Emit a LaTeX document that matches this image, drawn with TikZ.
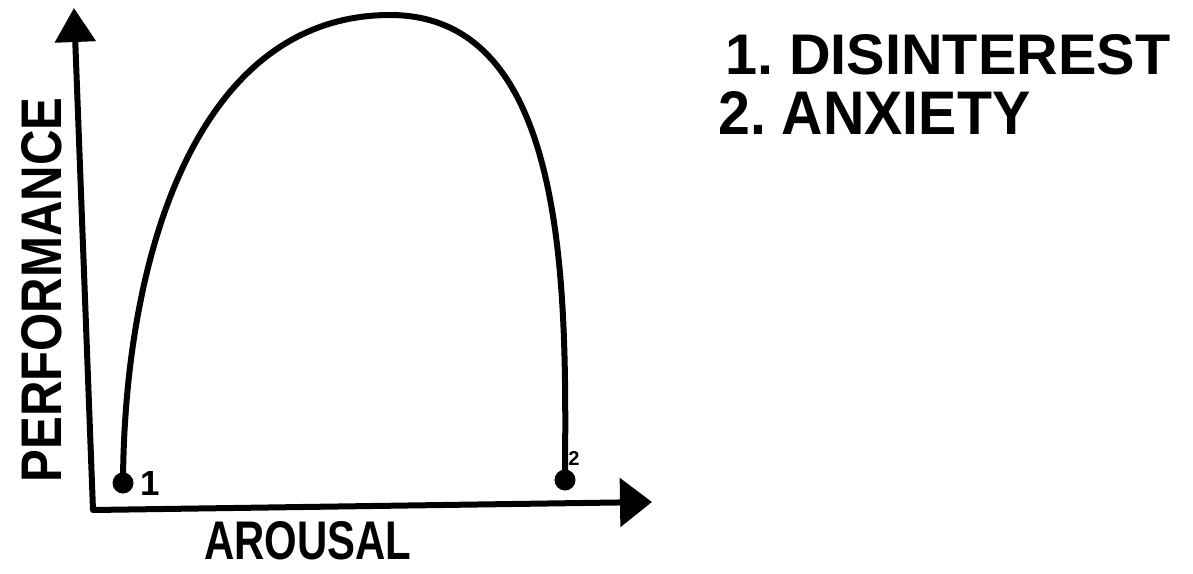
\documentclass[tikz,border=0pt]{standalone}
\usepackage{fontspec}
\setmainfont{Liberation Sans}
\usetikzlibrary{arrows.meta}
\tikzset{
  ink/.style={line width=6pt, line cap=round, line join=round, draw=black},
  dotmark/.style={circle, fill=black, inner sep=0pt, minimum size=21pt},
  hand/.style={inner sep=0pt, font=\bfseries},
}
\begin{document}
\begin{tikzpicture}[x=1pt,y=-1pt]
\useasboundingbox (0,0) rectangle (1193,573);
% axes
\coordinate (O) at (93,510);
\coordinate (ytop) at (74,8);
\coordinate (xend) at (652,502);
\draw[ink, {Triangle[width=40pt,length=34pt]}-{Triangle[width=48pt,length=32pt]}] (ytop) -- (O) -- (xend);
% dots
\node[dotmark] (d1) at (123,483) {};
\node[dotmark] (d2) at (565,480) {};
% curve
\draw[ink] (d1.center) .. controls (124,260) and (195,15) .. (390,15)
                     .. controls (572,15) and (566,300) .. (d2.center);
% point labels
\node[hand] (l1) at (150,483) {\resizebox{!}{24pt}{1}};
\node[hand] (l2) at (574,458) {\resizebox{!}{14pt}{2}};
% axis labels
\node[hand, rotate=90] (perf) at (42,290) {\resizebox{385pt}{40pt}{PERFORMANCE}};
\node[hand] (arou) at (308,541) {\resizebox{207pt}{38pt}{AROUSAL}};
% legend
\node[hand, anchor=west] (leg1) at (725,55) {\resizebox{445pt}{40pt}{1.~DISINTEREST}};
\node[hand, anchor=north west] (leg2) at (718,91) {\resizebox{312pt}{43pt}{2.~ANXIETY}};
\end{tikzpicture}
\end{document}
